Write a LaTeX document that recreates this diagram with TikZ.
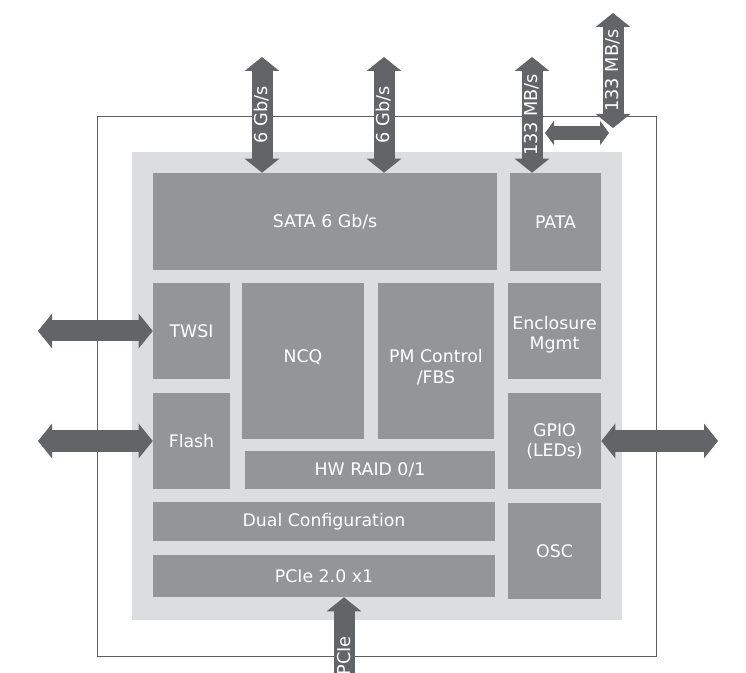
\documentclass[tikz,border=0pt]{standalone}
\usepackage{fontspec}
\setmainfont{DejaVu Sans}
\usetikzlibrary{arrows.meta}
\definecolor{blockgray}{HTML}{939598}
\definecolor{chipgray}{HTML}{DCDDDF}
\definecolor{busgray}{HTML}{636467}
\definecolor{framegray}{HTML}{5F5F62}
\begin{document}
\begin{tikzpicture}[x=0.75pt,y=-0.75pt,
  blk/.style n args={2}{fill=blockgray,text=white,align=center,inner sep=0pt,
    minimum width=#1*0.75pt,minimum height=#2*0.75pt,font=\fontsize{13}{15}\selectfont},
  bus/.style={draw=busgray,line width=15.75pt,
    >={Triangle[width=25.5pt,length=10.5pt]}},
  thinbus/.style={draw=busgray,line width=10.5pt,
    >={Triangle[width=18pt,length=6.75pt]}},
  lbl/.style={text=white,rotate=90,inner sep=0pt,font=\fontsize{13.3}{15}\selectfont}]
  \useasboundingbox (0,0) rectangle (746,673);
  % frame and chip
  \draw[framegray,line width=0.75pt] (97,117) rectangle (656,656);
  \fill[chipgray] (132,152) rectangle (622,620);
  % blocks
  \node[blk={344}{97}] (sata) at (325,221.5) {SATA 6 Gb/s};
  \node[blk={91}{98}] (pata) at (555.5,222) {PATA};
  \node[blk={77}{96}] (twsi) at (191.5,331) {TWSI};
  \node[blk={77}{96}] (flash) at (191.5,441) {Flash};
  \node[blk={122}{156}] (ncq) at (303,361) {};
  \node at (303,357) [text=white,font=\fontsize{13}{15}\selectfont] (ncqtxt) {NCQ};
  \node[blk={116}{156}] (pm) at (436,361) {};
  \node at (436,367) [text=white,align=center,font=\fontsize{13}{15.75}\selectfont] (pmtxt) {PM Control\\/FBS};
  \node[blk={250}{38}] (raid) at (370,470) {HW RAID 0/1};
  \node[blk={93}{96}] (encl) at (554.5,331) {};
  \node at (554.5,335) [text=white,align=center,font=\fontsize{13}{15}\selectfont] (encltxt) {Enclosure\\Mgmt};
  \node[blk={93}{96}] (gpio) at (554.5,441) {GPIO\\(LEDs)};
  \node[blk={342}{39}] (dual) at (324,521.5) {Dual Configuration};
  \node[blk={342}{42}] (pcie) at (324,576) {PCIe 2.0 x1};
  \node[blk={93}{96}] (osc) at (554.5,551) {OSC};
  % free ends of the buses
  \coordinate (sa) at (262,57);
  \coordinate (sb) at (384,57);
  \coordinate (pa) at (532,57);
  \coordinate (qa) at (613,13);
  \coordinate (qb) at (613,128);
  \coordinate (ha) at (545,133);
  \coordinate (hb) at (609,133);
  \coordinate (tw) at (38,331);
  \coordinate (fl) at (38,441);
  \coordinate (gp) at (718,441);
  \coordinate (pc) at (344,700);
  % buses
  \draw[bus,<->] (sa) -- (sa |- sata.north) node[lbl,midway] {6 Gb/s};
  \draw[bus,<->] (sb) -- (sb |- sata.north) node[lbl,midway] {6 Gb/s};
  \draw[bus,<->] (pa) -- (pa |- pata.north) node[lbl,midway] {133 MB/s};
  \draw[bus,<->] (qa) -- (qb) node[lbl,midway] {133 MB/s};
  \draw[thinbus,<->] (ha) -- (hb);
  \draw[bus,<->] (tw) -- (twsi.west);
  \draw[bus,<->] (fl) -- (flash.west);
  \draw[bus,<->] (gpio.east) -- (gp);
  \draw[bus,->] (pc) -- (pc |- pcie.south);
  \node[lbl] (pcielbl) at (344,656) {PCIe};
\end{tikzpicture}
\end{document}
